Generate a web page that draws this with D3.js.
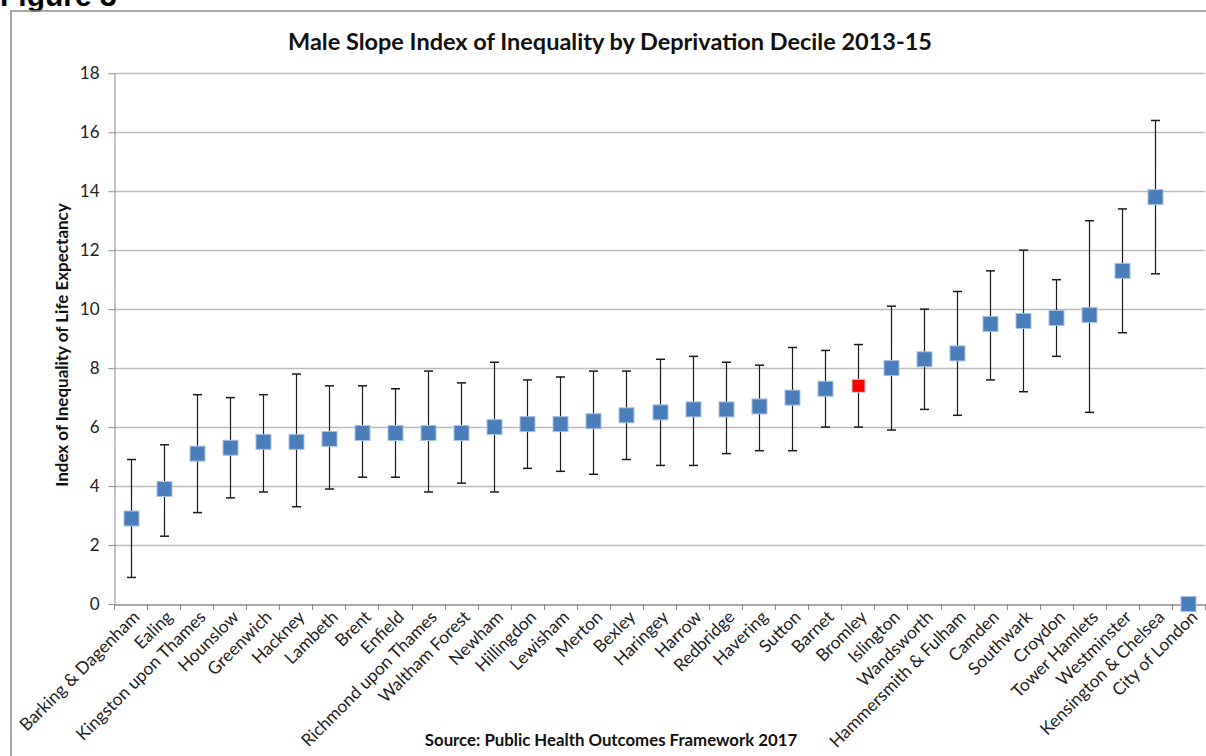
<!DOCTYPE html>
<html><head><meta charset="utf-8">
<script src="https://cdn.jsdelivr.net/npm/d3@7"></script>
<style>
html,body{margin:0;padding:0;background:#fff;}
svg{display:block;}
text{font-family:Lato,"Open Sans",sans-serif;}
</style></head>
<body>
<svg id="c" width="1206" height="756"></svg>
<script>
const boroughs = ["Barking & Dagenham","Ealing","Kingston upon Thames","Hounslow","Greenwich","Hackney","Lambeth","Brent","Enfield","Richmond upon Thames","Waltham Forest","Newham","Hillingdon","Lewisham","Merton","Bexley","Haringey","Harrow","Redbridge","Havering","Sutton","Barnet","Bromley","Islington","Wandsworth","Hammersmith & Fulham","Camden","Southwark","Croydon","Tower Hamlets","Westminster","Kensington & Chelsea","City of London"];
const sii   = [2.9,3.9,5.1,5.3,5.5,5.5,5.6,5.8,5.8,5.8,5.8,6.0,6.1,6.1,6.2,6.4,6.5,6.6,6.6,6.7,7.0,7.3,7.4,8.0,8.3,8.5,9.5,9.6,9.7,9.8,11.3,13.8,0];
const lower = [0.9,2.3,3.1,3.6,3.8,3.3,3.9,4.3,4.3,3.8,4.1,3.8,4.6,4.5,4.4,4.9,4.7,4.7,5.1,5.2,5.2,6.0,6.0,5.9,6.6,6.4,7.6,7.2,8.4,6.5,9.2,11.2,null];
const upper = [4.9,5.4,7.1,7.0,7.1,7.8,7.4,7.4,7.3,7.9,7.5,8.2,7.6,7.7,7.9,7.9,8.3,8.4,8.2,8.1,8.7,8.6,8.8,10.1,10.0,10.6,11.3,12.0,11.0,13.0,13.4,16.4,null];
const highlight = ["Bromley"];
const yTicks = [0,2,4,6,8,10,12,14,16,18];
const figureLabel = "Figure 3";
const chartTitle = "Male Slope Index of Inequality by Deprivation Decile 2013-15";
const yTitle = "Index of Inequality of Life Expectancy";
const sourceText = "Source: Public Health Outcomes Framework 2017";

const svg = d3.select("#c");
const L = 114, R = 1205, T = 73.3, B = 604;

// figure label (cut off at top in the original) and frame
svg.append("text").attr("x", 0).attr("y", 6)
  .style("font-family","'Liberation Sans',Arial,sans-serif")
  .attr("font-size", 30).attr("font-weight","bold").attr("fill","#000").text(figureLabel);
svg.append("rect").attr("x", 11).attr("y", 11).attr("width", 1210).attr("height", 760)
  .attr("fill","none").attr("stroke","#8c8c8c").attr("stroke-width",1.5);

const x = d3.scaleBand().domain(boroughs).range([L, R]).padding(0);
const y = d3.scaleLinear().domain([0, 18]).range([B, T]);

// gridlines
svg.append("g").selectAll("line").data(yTicks.filter(d => d > 0)).join("line")
  .attr("x1", L).attr("x2", R).attr("y1", d => Math.round(y(d))+0.5).attr("y2", d => Math.round(y(d))+0.5)
  .attr("stroke","#bcbcbc").attr("stroke-width",1.3);

// y axis
const yAxis = d3.axisLeft(y).tickValues(yTicks).tickSize(6).tickPadding(9).tickSizeOuter(0);
const gy = svg.append("g").attr("transform", `translate(${L+0.5},0)`).call(yAxis);
gy.select(".domain").attr("stroke","#8c8c8c");
gy.selectAll(".tick line").attr("stroke","#8c8c8c");
gy.selectAll(".tick text").attr("font-size", 17).attr("fill","#222").style("font-family","Lato,sans-serif");

// x axis
const xAxis = d3.axisBottom(x).tickSize(0).tickFormat("");
const gx = svg.append("g").attr("transform", `translate(0,${Math.round(B)+0.5})`).call(xAxis);
gx.select(".domain").attr("stroke","#8c8c8c").attr("stroke-width",1.3);
const bounds = boroughs.map(b => x(b)).concat([R]);
svg.append("g").selectAll("line").data(bounds).join("line")
  .attr("x1", d => Math.round(d)+0.5).attr("x2", d => Math.round(d)+0.5)
  .attr("y1", B).attr("y2", B + 6).attr("stroke","#8c8c8c");

// x labels
svg.append("g").selectAll("text").data(boroughs).join("text")
  .attr("transform", d => `translate(${x(d) + x.bandwidth()/2 + 7},${B + 11}) rotate(-45)`)
  .attr("text-anchor","end").attr("dominant-baseline","middle")
  .attr("font-size", 17.4).attr("fill","#222").text(d => d);

// error bars
const data = boroughs.map((b,i) => ({b, v: sii[i], lo: lower[i], hi: upper[i]}));
const eb = svg.append("g");
const withErr = data.filter(d => d.lo != null);
const cx = d => Math.round(x(d.b) + x.bandwidth()/2) + 0.5;
eb.selectAll(".v").data(withErr).join("line")
  .attr("x1", cx).attr("x2", cx).attr("y1", d => y(d.lo)).attr("y2", d => y(d.hi))
  .attr("stroke","#1a1a1a").attr("stroke-width",1.2);
eb.selectAll(".t").data(withErr).join("line")
  .attr("x1", d => cx(d)-4.5).attr("x2", d => cx(d)+4.5).attr("y1", d => y(d.hi)).attr("y2", d => y(d.hi))
  .attr("stroke","#1a1a1a").attr("stroke-width",1.5);
eb.selectAll(".b").data(withErr).join("line")
  .attr("x1", d => cx(d)-4.5).attr("x2", d => cx(d)+4.5).attr("y1", d => y(d.lo)).attr("y2", d => y(d.lo))
  .attr("stroke","#1a1a1a").attr("stroke-width",1.5);

// markers
svg.append("g").selectAll("rect").data(data).join("rect")
  .attr("x", d => cx(d) - (highlight.includes(d.b) ? 6.5 : 7.5))
  .attr("y", d => y(d.v) - (highlight.includes(d.b) ? 6.5 : 7.5))
  .attr("width", d => highlight.includes(d.b) ? 13 : 15)
  .attr("height", d => highlight.includes(d.b) ? 13 : 15)
  .attr("fill", d => highlight.includes(d.b) ? "#ff0000" : "#4a7ebb")
  .attr("stroke", d => highlight.includes(d.b) ? "#b9cde5" : "#a9c1e0").attr("stroke-width",1);

// titles
svg.append("text").attr("x", 610).attr("y", 50).attr("text-anchor","middle")
  .attr("font-size", 23.5).attr("font-weight","bold").attr("fill","#111").text(chartTitle);
svg.append("text").attr("transform", "translate(68,345) rotate(-90)").attr("text-anchor","middle")
  .attr("font-size", 17).attr("font-weight","bold").attr("fill","#111").text(yTitle);
svg.append("text").attr("x", 611).attr("y", 746).attr("text-anchor","middle")
  .attr("font-size", 16.8).attr("font-weight","bold").attr("fill","#111").text(sourceText);
</script>
</body></html>
